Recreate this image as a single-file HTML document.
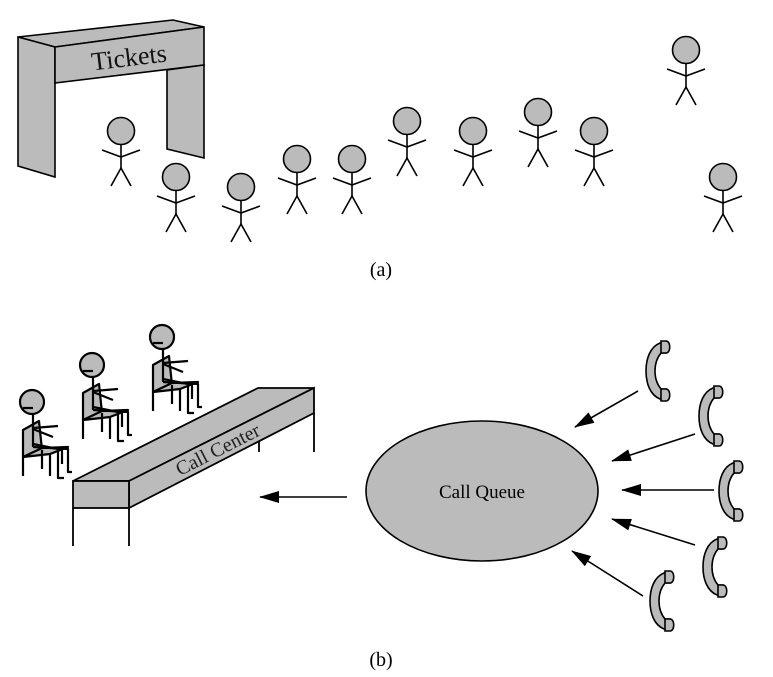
<!DOCTYPE html>
<html><head><meta charset="utf-8"><style>body{margin:0;background:#fff}svg{display:block}</style></head><body>
<svg width="773" height="677" viewBox="0 0 773 677" xmlns="http://www.w3.org/2000/svg" font-family="Liberation Serif, serif">
<defs>
<g id="p" stroke="#000" stroke-width="1.6" fill="none">
<circle cx="0" cy="0" r="13.5" fill="#bbb"/>
<line x1="0" y1="13.5" x2="0" y2="37"/>
<polyline points="-19,19 0,26 19,19"/>
<polyline points="-10,55 0,37 10,55"/>
</g>
<g id="s" stroke="#000" stroke-width="2.2" stroke-linejoin="round">
<polygon points="-9,28 7,19 10,48 -9,55" fill="#bbb"/>
<polygon points="-9,55 10,46 36,45 18,52" fill="#bbb"/>
<line x1="-9" y1="55" x2="-9" y2="74"/>
<line x1="18" y1="52" x2="18" y2="74"/>
<line x1="10" y1="48" x2="10" y2="67"/>
<line x1="30" y1="48" x2="30" y2="62"/>
<circle cx="0" cy="0" r="12" fill="#bbb"/>
<line x1="-9" y1="6" x2="1" y2="6"/>
<line x1="1" y1="12" x2="1" y2="45"/>
<line x1="1" y1="26" x2="26" y2="24"/>
<line x1="1" y1="27" x2="21" y2="35"/>
<polyline points="1,45 36,47 36,70 40,70" fill="none"/>
<polyline points="1,42 26,47 26,76 32,76" fill="none"/>
</g>
<g id="ph" stroke="#000" stroke-width="1.6" fill="#bbb">
<path d="M14,2 C4,6 0,18 0,30 C0,42 4,54 14,58 L20,58 L20,48 L15,48 C10,42 9,36 9,30 C9,24 10,18 15,12 L20,12 L20,2 Z"/>
<path d="M15,0 L20,0 C25,0 25,12 20,12 L15,12 Z"/>
<path d="M15,48 L20,48 C25,48 25,60 20,60 L15,60 Z"/>
</g>
<marker id="b" markerWidth="20" markerHeight="12" refX="19" refY="6" orient="auto" markerUnits="userSpaceOnUse"><path d="M0,0 L20,6 L0,12 Z" fill="#000"/></marker>
</defs>
<g stroke="#000" stroke-width="1.6" fill="#bbb">
<polygon points="18,37 173,20 204,27 55,47"/>
<polygon points="18,37 55,47 55,177 18,166"/>
<polygon points="55,47 204,27 204,65 55,83"/>
<polygon points="167,70 204,65 204,158 167,149"/>
</g>
<text x="129" y="66" font-size="26" text-anchor="middle" fill="#111" transform="rotate(-7 129 58)">Tickets</text>
<use href="#p" x="121" y="131"/><use href="#p" x="176" y="177"/><use href="#p" x="241" y="187"/>
<use href="#p" x="297" y="159"/><use href="#p" x="352" y="159"/><use href="#p" x="407" y="121"/>
<use href="#p" x="473" y="131"/><use href="#p" x="538" y="112"/><use href="#p" x="594" y="131"/>
<use href="#p" x="686" y="50"/><use href="#p" x="723" y="177"/>
<text x="381" y="276" font-size="20" text-anchor="middle">(a)</text>
<use href="#s" x="32" y="402"/><use href="#s" x="92" y="365"/><use href="#s" x="162" y="337"/>
<g stroke="#000" stroke-width="1.8" fill="#bbb">
<polygon points="73,481 258,388 314,388 129,481"/>
<polygon points="129,481 314,388 314,413 129,508"/>
<rect x="73" y="481" width="56" height="27"/>
<line x1="73" y1="508" x2="73" y2="546"/><line x1="129" y1="508" x2="129" y2="546"/>
<line x1="314" y1="413" x2="314" y2="452"/><line x1="259" y1="441" x2="259" y2="452"/>
</g>
<text x="218" y="456" font-size="20" text-anchor="middle" fill="#222" transform="rotate(-27 218 450)">Call Center</text>
<line x1="347" y1="497" x2="260" y2="497" stroke="#000" stroke-width="1.6" marker-end="url(#b)"/>
<ellipse cx="482" cy="491" rx="116" ry="70" fill="#bbb" stroke="#000" stroke-width="1.6"/>
<text x="482" y="498" font-size="19" text-anchor="middle">Call Queue</text>
<g stroke="#000" stroke-width="1.6" marker-end="url(#b)">
<line x1="638" y1="391" x2="575" y2="427"/>
<line x1="695" y1="434" x2="612" y2="461"/>
<line x1="714" y1="490" x2="622" y2="490"/>
<line x1="695" y1="545" x2="612" y2="519"/>
<line x1="643" y1="596" x2="572" y2="551"/>
</g>
<use href="#ph" x="646" y="341"/><use href="#ph" x="699" y="386"/><use href="#ph" x="719" y="461"/>
<use href="#ph" x="703" y="537"/><use href="#ph" x="650" y="571"/>
<text x="381" y="666" font-size="20" text-anchor="middle">(b)</text>
</svg>
</body></html>
